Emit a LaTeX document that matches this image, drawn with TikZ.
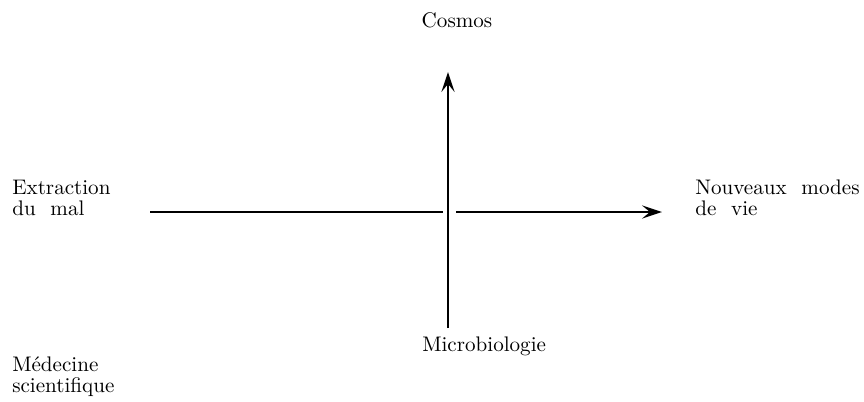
\documentclass[tikz,border=0pt]{standalone}
\usepackage{fontspec}
\setmainfont{lmroman10-regular}[Extension=.otf]
\usetikzlibrary{arrows.meta}

\newcommand{\blanc}{\hspace{0.7em}}

\tikzset{
  lbl/.style={anchor=base west,inner sep=0pt,align=left,font=\fontsize{15}{14.5}\selectfont},
  axe/.style={line width=1.1pt},
  pointe/.style={-{Stealth[length=5mm,width=3.3mm,inset=2mm]}},
}

\begin{document}
\begin{tikzpicture}[x=0.025cm,y=-0.025cm]
\useasboundingbox (0,0) rectangle (864,402);

% libelles
\node[lbl,anchor=base] (cosmos) at (457,27) {Cosmos};
\node[lbl] (extraction) at (12,215) {Extraction\\du\blanc mal};
\node[lbl] (nouveaux) at (695,215) {Nouveaux\blanc modes\\de\blanc vie};
\node[lbl] (microbio) at (422,351) {Microbiologie};
\node[lbl] (medecine) at (12,392) {Médecine\\scientifique};

% axes
\coordinate (gauche) at (150,212);
\coordinate (coupeG) at (443,212);
\coordinate (coupeD) at (456,212);
\coordinate (droite) at (662,212);
\coordinate (bas) at (448,328);
\coordinate (haut) at (448,72);

\draw[axe] (gauche) -- (coupeG);
\draw[axe,pointe] (coupeD) -- (droite);
\draw[axe,pointe] (bas) -- (haut);
\end{tikzpicture}
\end{document}
